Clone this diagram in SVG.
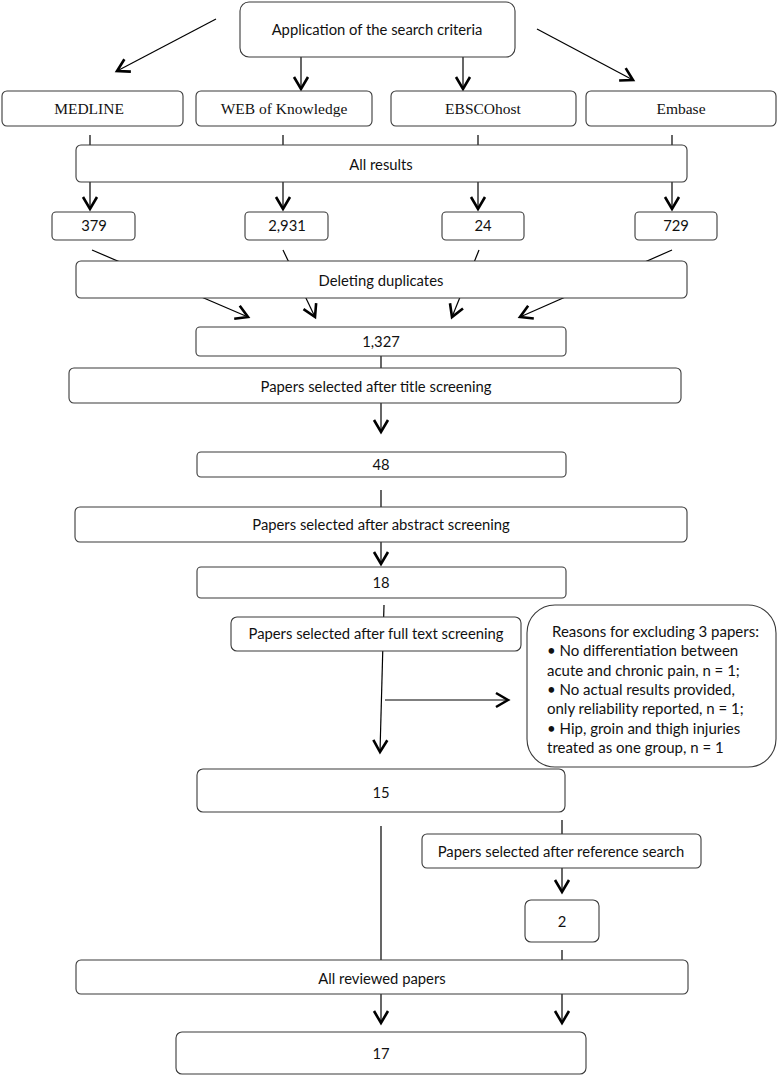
<svg xmlns="http://www.w3.org/2000/svg" width="778" height="1075" viewBox="0 0 778 1075">
<style>
.b{fill:#fff;stroke:#3a3a3a;stroke-width:1.1}
.t{font-family:Lato,"Liberation Sans",sans-serif;font-size:14.8px;fill:#111;text-anchor:middle}
.s{font-family:"Liberation Serif",serif;font-size:15.5px;fill:#111;text-anchor:middle}
.r{font-family:Lato,"Liberation Sans",sans-serif;font-size:15px;fill:#111}
.c{stroke:#000;stroke-width:1.2;fill:none}
.a{marker-end:url(#ah)}
</style>
<defs>
<marker id="ah" viewBox="-16 -10 20 20" markerWidth="20" markerHeight="20" refX="0" refY="0" orient="auto" markerUnits="userSpaceOnUse">
<path d="M-12,-7 L0,0 L-12,7" fill="none" stroke="#000" stroke-width="2.6" stroke-linejoin="miter"/>
</marker>
</defs>
<rect width="778" height="1075" fill="#fff"/>
<g id="connectors">
<line class="c a" x1="216" y1="19" x2="117" y2="71"/>
<line class="c a" x1="301" y1="57" x2="301" y2="89"/>
<line class="c a" x1="463" y1="57" x2="463" y2="89"/>
<line class="c a" x1="537" y1="29" x2="633" y2="80"/>
<line class="c a" x1="90" y1="135" x2="90" y2="209"/>
<line class="c a" x1="283" y1="135" x2="283" y2="209"/>
<line class="c a" x1="478" y1="135" x2="478" y2="209"/>
<line class="c a" x1="672" y1="135" x2="672" y2="209"/>
<line class="c a" x1="92" y1="250" x2="248" y2="317"/>
<line class="c a" x1="283" y1="250" x2="315" y2="317"/>
<line class="c a" x1="479" y1="250" x2="452" y2="317"/>
<line class="c a" x1="672" y1="250" x2="520" y2="317"/>
<line class="c a" x1="381" y1="356" x2="381" y2="432"/>
<line class="c a" x1="381" y1="490" x2="381" y2="564"/>
<line class="c a" x1="384" y1="605" x2="380" y2="752"/>
<line class="c a" x1="385" y1="700" x2="508" y2="700"/>
<line class="c a" x1="381" y1="826" x2="381" y2="1023"/>
<line class="c a" x1="562" y1="820" x2="562" y2="892"/>
<line class="c a" x1="562" y1="950" x2="562" y2="1023"/>
</g>
<g id="n-search"><rect class="b" x="240" y="2" width="275" height="55" rx="9"/><text class="t" x="377" y="35">Application of the search criteria</text></g>
<g id="n-medline"><rect class="b" x="2" y="91" width="181" height="35" rx="5"/><text class="s" x="89" y="114">MEDLINE</text></g>
<g id="n-wok"><rect class="b" x="196" y="91" width="176" height="35" rx="5"/><text class="s" x="284" y="114">WEB of Knowledge</text></g>
<g id="n-ebsco"><rect class="b" x="391" y="91" width="185" height="35" rx="5"/><text class="s" x="483" y="114">EBSCOhost</text></g>
<g id="n-embase"><rect class="b" x="586" y="91" width="190" height="35" rx="5"/><text class="s" x="681" y="114">Embase</text></g>
<g id="n-allresults"><rect class="b" x="76" y="145" width="611" height="37" rx="5"/><text class="t" x="381" y="170">All results</text></g>
<g id="n-379"><rect class="b" x="52" y="212" width="83" height="28" rx="4"/><text class="t" x="94" y="231">379</text></g>
<g id="n-2931"><rect class="b" x="245" y="212" width="83" height="28" rx="4"/><text class="t" x="287" y="231">2,931</text></g>
<g id="n-24"><rect class="b" x="442" y="212" width="82" height="28" rx="4"/><text class="t" x="483" y="231">24</text></g>
<g id="n-729"><rect class="b" x="635" y="212" width="82" height="28" rx="4"/><text class="t" x="676" y="231">729</text></g>
<g id="n-dedup"><rect class="b" x="76" y="261" width="611" height="37" rx="5"/><text class="t" x="381" y="286">Deleting duplicates</text></g>
<g id="n-1327"><rect class="b" x="196" y="327" width="370" height="29" rx="4"/><text class="t" x="381" y="347">1,327</text></g>
<g id="n-title"><rect class="b" x="69" y="368" width="612" height="35" rx="5"/><text class="t" x="376" y="392">Papers selected after title screening</text></g>
<g id="n-48"><rect class="b" x="197" y="452" width="369" height="25" rx="4"/><text class="t" x="381" y="470">48</text></g>
<g id="n-abstract"><rect class="b" x="75" y="507" width="612" height="35" rx="5"/><text class="t" x="381" y="530">Papers selected after abstract screening</text></g>
<g id="n-18"><rect class="b" x="197" y="567" width="369" height="31" rx="4"/><text class="t" x="381" y="588">18</text></g>
<g id="n-fulltext"><rect class="b" x="231" y="617" width="290" height="34" rx="6"/><text class="t" x="376" y="639">Papers selected after full text screening</text></g>
<g id="n-reasons"><rect class="b" x="527" y="605" width="249" height="162" rx="28"/>
<text class="r" x="552" y="637">Reasons for excluding 3 papers:</text>
<text class="r" x="547" y="656">• No differentiation between</text>
<text class="r" x="547" y="676">acute and chronic pain, n = 1;</text>
<text class="r" x="547" y="695">• No actual results provided,</text>
<text class="r" x="547" y="714">only reliability reported, n = 1;</text>
<text class="r" x="547" y="734">• Hip, groin and thigh injuries</text>
<text class="r" x="547" y="753">treated as one group, n = 1</text>
</g>
<g id="n-15"><rect class="b" x="197" y="769" width="368" height="43" rx="6"/><text class="t" x="381" y="798">15</text></g>
<g id="n-refsearch"><rect class="b" x="422" y="834" width="279" height="34" rx="5"/><text class="t" x="561" y="857">Papers selected after reference search</text></g>
<g id="n-2"><rect class="b" x="525" y="900" width="74" height="42" rx="6"/><text class="t" x="562" y="927">2</text></g>
<g id="n-allreviewed"><rect class="b" x="76" y="960" width="612" height="34" rx="5"/><text class="t" x="382" y="984">All reviewed papers</text></g>
<g id="n-17"><rect class="b" x="176" y="1032" width="410" height="42" rx="6"/><text class="t" x="381" y="1059">17</text></g>
</svg>
